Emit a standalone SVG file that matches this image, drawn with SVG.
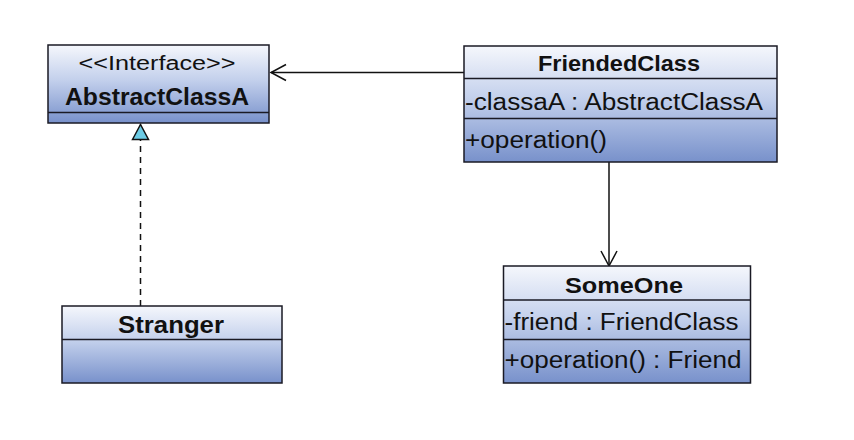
<svg xmlns="http://www.w3.org/2000/svg" width="854" height="440" viewBox="0 0 854 440">
  <defs>
    <linearGradient id="boxGrad" x1="0" y1="0" x2="0" y2="1">
      <stop offset="0" stop-color="#f5f7fc"/>
      <stop offset="0.45" stop-color="#c3d0ec"/>
      <stop offset="1" stop-color="#7891cb"/>
    </linearGradient>
    <marker id="openArrow" viewBox="0 0 20 20" refX="16" refY="10" markerWidth="20" markerHeight="20" markerUnits="userSpaceOnUse" orient="auto">
      <path d="M1,2 L16,10 L1,18" fill="none" stroke="#111" stroke-width="1.5"/>
    </marker>
    <marker id="realize" viewBox="0 0 20 20" refX="17" refY="10" markerWidth="20" markerHeight="20" markerUnits="userSpaceOnUse" orient="auto">
      <path d="M2,2 L17,10 L2,18 Z" fill="#6ccbe4" stroke="#111" stroke-width="1.5"/>
    </marker>
  </defs>
  <style>
    .box { fill: url(#boxGrad); stroke: #1a1a24; stroke-width: 1.5; }
    .div { stroke: #1a1a24; stroke-width: 1.5; }
    .t { font-family: "Liberation Sans", Arial, sans-serif; fill: #111; }
    .title { font-weight: bold; text-anchor: middle; }
    .conn { fill: none; stroke: #111; stroke-width: 1.5; }
  </style>
  <rect width="854" height="440" fill="#ffffff"/>

  <g id="connectors">
    <line class="conn" x1="464" y1="72.5" x2="271" y2="72.5" marker-end="url(#openArrow)"/>
    <line class="conn" x1="609" y1="162" x2="609" y2="266" marker-end="url(#openArrow)"/>
    <line class="conn" x1="140.5" y1="306" x2="140.5" y2="139" stroke-dasharray="6,5"/>
    <line class="conn" x1="140.5" y1="140" x2="140.5" y2="124.5" marker-end="url(#realize)" stroke="none"/>
  </g>

  <g id="AbstractClassA">
    <rect class="box" x="48" y="45" width="221" height="78"/>
    <line class="div" x1="48" y1="112.5" x2="269" y2="112.5"/>
    <text class="t" x="157" y="70" font-size="20" text-anchor="middle" textLength="157" lengthAdjust="spacingAndGlyphs">&lt;&lt;Interface&gt;&gt;</text>
    <text class="t title" x="157" y="105" font-size="23" textLength="184" lengthAdjust="spacingAndGlyphs">AbstractClassA</text>
  </g>

  <g id="FriendedClass">
    <rect class="box" x="464" y="46" width="313" height="116"/>
    <line class="div" x1="464" y1="78.5" x2="777" y2="78.5"/>
    <line class="div" x1="464" y1="118.5" x2="777" y2="118.5"/>
    <text class="t title" x="619" y="71" font-size="22" textLength="162" lengthAdjust="spacingAndGlyphs">FriendedClass</text>
    <text class="t" x="465" y="110" font-size="23" textLength="298" lengthAdjust="spacingAndGlyphs">-classaA : AbstractClassA</text>
    <text class="t" x="465" y="148" font-size="23" textLength="142" lengthAdjust="spacingAndGlyphs">+operation()</text>
  </g>

  <g id="SomeOne">
    <rect class="box" x="503.5" y="266" width="247" height="117"/>
    <line class="div" x1="503.5" y1="300" x2="750.5" y2="300"/>
    <line class="div" x1="503.5" y1="339.5" x2="750.5" y2="339.5"/>
    <text class="t title" x="624" y="293" font-size="22" textLength="118" lengthAdjust="spacingAndGlyphs">SomeOne</text>
    <text class="t" x="504.5" y="330" font-size="23" textLength="234" lengthAdjust="spacingAndGlyphs">-friend : FriendClass</text>
    <text class="t" x="504.5" y="368" font-size="23" textLength="237" lengthAdjust="spacingAndGlyphs">+operation() : Friend</text>
  </g>

  <g id="Stranger">
    <rect class="box" x="62" y="306" width="220" height="77"/>
    <line class="div" x1="62" y1="339.5" x2="282" y2="339.5"/>
    <text class="t title" x="171" y="333" font-size="23" textLength="106" lengthAdjust="spacingAndGlyphs">Stranger</text>
  </g>
</svg>
